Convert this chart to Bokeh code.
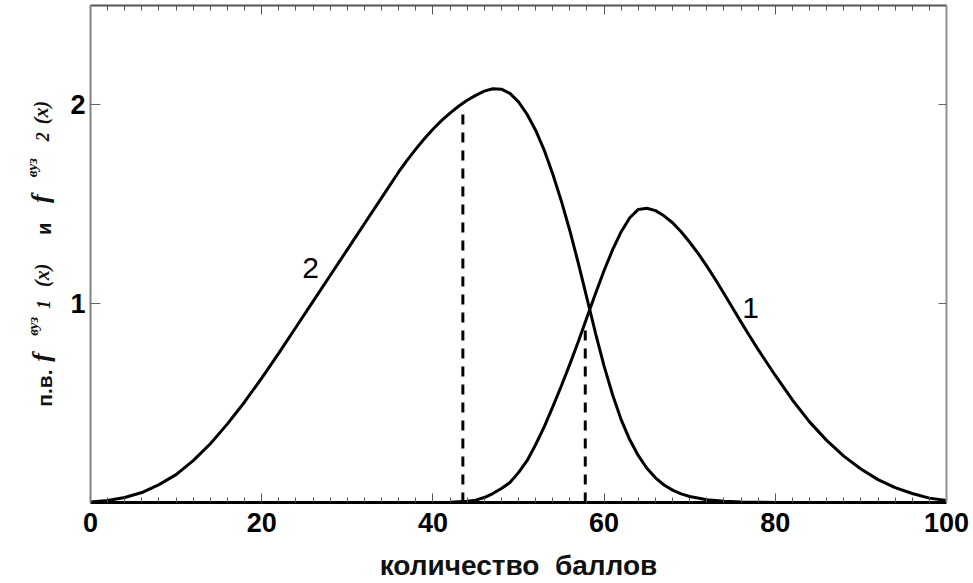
import math
from bokeh.plotting import figure
from bokeh.layouts import row
from bokeh.models import FixedTicker, LinearAxis, Label, Range1d, ColumnDataSource
from bokeh.core.properties import value
from bokeh.embed import file_html
from bokeh.resources import INLINE

# ---- data ----
x_ticks = [0, 20, 40, 60, 80, 100]
x_minor = [2, 4, 6, 8, 10, 12, 14, 16, 18, 22, 24, 26, 28, 30, 32, 34, 36, 38,
           42, 44, 46, 48, 50, 52, 54, 56, 58, 62, 64, 66, 68, 70, 72, 74, 76, 78,
           82, 84, 86, 88, 90, 92, 94, 96, 98]
y_ticks = [1, 2]
x_title = "количество \u00a0баллов"

curve2_x = [0, 2, 4, 6, 8, 10, 12, 14, 16, 18, 20, 22, 24, 26, 28, 30, 32, 34, 36,
            37, 38, 39, 40, 41, 42, 43, 44, 45, 46, 47, 48, 49, 50, 51, 52, 53, 54,
            55, 56, 57, 58, 59, 60, 61, 62, 63, 64, 65, 66, 67, 68, 69, 70, 72, 74,
            76, 80, 90, 100]
curve2_y = [0.003, 0.01, 0.025, 0.05, 0.09, 0.14, 0.21, 0.295, 0.395, 0.505, 0.625,
            0.75, 0.88, 1.01, 1.14, 1.27, 1.40, 1.53, 1.66, 1.72, 1.775, 1.827,
            1.875, 1.918, 1.956, 1.99, 2.02, 2.045, 2.066, 2.078, 2.076, 2.055,
            2.012, 1.95, 1.87, 1.77, 1.65, 1.515, 1.365, 1.20, 1.025, 0.85, 0.685,
            0.54, 0.415, 0.315, 0.235, 0.172, 0.124, 0.088, 0.062, 0.043, 0.03,
            0.014, 0.006, 0.002, 0.0, 0.0, 0.0]

curve1_x = [0, 40, 42, 44, 45, 46, 47, 48, 49, 50, 51, 52, 53, 54, 55, 56, 57, 58, 59,
            60, 61, 62, 63, 64, 65, 66, 67, 68, 69, 70, 71, 72, 73, 74, 75, 76, 77,
            78, 80, 82, 84, 86, 88, 90, 92, 94, 96, 98, 100]
curve1_y = [0.0, 0.0, 0.001, 0.006, 0.012, 0.025, 0.045, 0.07, 0.10, 0.15, 0.21,
            0.29, 0.38, 0.48, 0.585, 0.695, 0.81, 0.93, 1.05, 1.165, 1.27, 1.36,
            1.43, 1.472, 1.478, 1.466, 1.44, 1.405, 1.36, 1.307, 1.25, 1.187, 1.12,
            1.05, 0.978, 0.906, 0.836, 0.768, 0.638, 0.515, 0.405, 0.312, 0.233, 0.168,
            0.115, 0.075, 0.045, 0.022, 0.01]

dash_x = [43.5, 57.8]
dash_top = [1.975, 0.90]

curve_labels = ["2", "1"]
curve_label_x = [25.7, 77.1]
curve_label_y = [1.18, 0.976]

# y-axis title pieces: text, font, style, size, baseline x (px), start y (px from top)
y_title_pieces = [
    ("п.в.", "Liberation Sans", "bold", "21px", 43.5, 407),
    ("f", "Liberation Serif", "bold italic", "26px", 41, 362),
    ("вуз", "Liberation Serif", "bold italic", "15px", 32, 336),
    ("1", "Liberation Serif", "bold italic", "18px", 43, 309),
    ("(x)", "Liberation Serif", "bold italic", "20px", 41, 287),
    ("и", "Liberation Sans", "bold", "20px", 43.5, 235),
    ("f", "Liberation Serif", "bold italic", "26px", 40, 203),
    ("вуз", "Liberation Serif", "bold italic", "15px", 31, 177),
    ("2", "Liberation Serif", "bold italic", "18px", 42, 141),
    ("(x)", "Liberation Serif", "bold italic", "20px", 40, 124),
]

H = 583
LEFT_W = 60
FRAME_TOP = 5
FRAME_BOTTOM = 503

# ---- left strip carrying the composed y-axis title (data units = pixels) ----
yl = figure(width=LEFT_W, height=H, x_range=Range1d(0, LEFT_W),
            y_range=Range1d(H - FRAME_BOTTOM, H - FRAME_TOP),
            output_backend="svg", toolbar_location=None, x_axis_type=None,
            y_axis_type=None, min_border_left=0, min_border_right=0,
            min_border_top=FRAME_TOP, min_border_bottom=H - FRAME_BOTTOM)
yl.outline_line_color = None
yl.grid.visible = False
for t, fnt, sty, sz, bx, sy in y_title_pieces:
    yl.text(x=[bx], y=[H - sy], text=[t], text_font=value(fnt),
            text_font_style=sty, text_font_size=sz, angle=math.pi / 2,
            text_align="left", text_baseline="alphabetic", text_color="#111111")

# ---- main chart ----
p = figure(width=973 - LEFT_W, height=H, x_range=Range1d(0, 100),
           y_range=Range1d(0, (FRAME_BOTTOM - FRAME_TOP) / 199.5),
           output_backend="svg", toolbar_location=None,
           min_border_left=30, min_border_right=27, min_border_top=FRAME_TOP,
           min_border_bottom=H - FRAME_BOTTOM)
p.outline_line_color = None
p.grid.visible = False

def style_x(ax, show_labels, line_color):
    ax.ticker = FixedTicker(ticks=x_ticks, minor_ticks=x_minor)
    ax.major_tick_in = 9
    ax.major_tick_out = 0
    ax.minor_tick_in = 5
    ax.minor_tick_out = 0
    ax.major_tick_line_color = "#555555"
    ax.minor_tick_line_color = "#555555"
    ax.axis_line_color = line_color
    if show_labels:
        ax.major_label_text_font = "Liberation Sans"
        ax.major_label_text_font_style = "bold"
        ax.major_label_text_font_size = "27px"
        ax.major_label_text_color = "black"
        ax.major_label_standoff = 10
    else:
        ax.major_label_text_font_size = "0px"
        ax.major_label_text_color = None
        ax.major_label_standoff = 0

def style_y(ax, show_labels, line_color, tick_len):
    ax.ticker = FixedTicker(ticks=y_ticks, minor_ticks=[])
    ax.major_tick_in = tick_len
    ax.major_tick_out = 0
    ax.minor_tick_in = 0
    ax.minor_tick_out = 0
    ax.major_tick_line_color = "#666666"
    ax.axis_line_color = line_color
    ax.axis_line_width = 2
    if show_labels:
        ax.major_label_text_font = "Liberation Sans"
        ax.major_label_text_font_style = "bold"
        ax.major_label_text_font_size = "27px"
        ax.major_label_text_color = "black"
        ax.major_label_standoff = 5
    else:
        ax.major_label_text_font_size = "0px"
        ax.major_label_text_color = None
        ax.major_label_standoff = 0

style_x(p.xaxis[0], True, "black")
p.xaxis[0].axis_line_width = 3
p.xaxis[0].axis_label = x_title
p.xaxis[0].axis_label_text_font = "Liberation Sans"
p.xaxis[0].axis_label_text_font_style = "bold"
p.xaxis[0].axis_label_text_font_size = "28px"
p.xaxis[0].axis_label_text_color = "#111111"
p.xaxis[0].axis_label_standoff = 15
style_y(p.yaxis[0], True, "#808080", 10)

top = LinearAxis()
style_x(top, False, "#555555")
top.axis_line_width = 2
p.add_layout(top, "above")

right = LinearAxis()
style_y(right, False, "#909090", 8)
p.add_layout(right, "right")

# ---- curves ----
p.line(curve2_x, curve2_y, line_color="black", line_width=3)
p.line(curve1_x, curve1_y, line_color="black", line_width=3)

src = ColumnDataSource(dict(x0=dash_x, y0=[0, 0], x1=dash_x, y1=dash_top))
p.segment(x0="x0", y0="y0", x1="x1", y1="y1", source=src, line_color="black",
          line_width=3, line_dash="10 8")

for t, lx, ly in zip(curve_labels, curve_label_x, curve_label_y):
    p.add_layout(Label(x=lx, y=ly, text=t, text_font="Liberation Sans",
                       text_font_size="30px", text_align="center",
                       text_baseline="alphabetic", text_color="black"))

layout = row(yl, p, spacing=0)
open("out.html", "w").write(file_html(layout, INLINE))
